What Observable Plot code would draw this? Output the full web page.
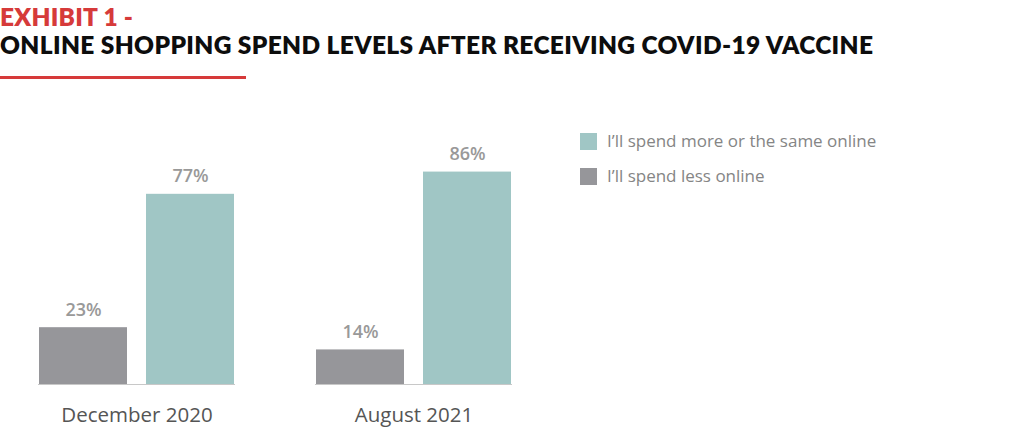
<!DOCTYPE html>
<html>
<head>
<meta charset="utf-8">
<script src="https://cdn.jsdelivr.net/npm/d3@7"></script>
<script src="https://cdn.jsdelivr.net/npm/@observablehq/plot@0.6"></script>
<style>
  html, body { margin: 0; padding: 0; background: #fff; }
  #wrap { position: relative; width: 1024px; height: 439px; overflow: hidden; }
  #wrap > * { position: absolute; }
</style>
</head>
<body>
<div id="wrap"></div>
<script>
const periods = ["December 2020", "August 2021"];
const seriesKeys = ["less", "more"];
const seriesLabels = ["I’ll spend less online", "I’ll spend more or the same online"];
const lessValues = [23, 14];
const moreValues = [77, 86];
const colors = ["#96969a", "#a0c6c5"];

const titleLine1 = "EXHIBIT 1 -";
const titleLine2 = "ONLINE SHOPPING SPEND LEVELS AFTER RECEIVING COVID-19 VACCINE";

const data = [];
periods.forEach((p, i) => {
  data.push({period: p, series: "less", value: lessValues[i]});
  data.push({period: p, series: "more", value: moreValues[i]});
});

const wrap = document.getElementById("wrap");
const NS = "http://www.w3.org/2000/svg";

// Header
const head = document.createElementNS(NS, "svg");
head.setAttribute("width", 1024);
head.setAttribute("height", 85);
head.style.left = "0px"; head.style.top = "0px";
head.innerHTML = `
  <text x="0" y="26" font-family="Lato" font-weight="800" font-size="24.5" fill="#d63a3a" textLength="133" lengthAdjust="spacing">${titleLine1}</text>
  <text x="0" y="54.3" font-family="Lato" font-weight="800" font-size="24.5" fill="#0d0d0d" textLength="873" lengthAdjust="spacing">${titleLine2}</text>
  <rect x="0" y="76" width="246" height="3" fill="#d63a3a"></rect>`;
wrap.appendChild(head);

// Chart
function makeChart(useSuper) {
  return Plot.plot({
    width: 560,
    height: 354,
    marginLeft: 22,
    marginRight: 32,
    marginTop: 52,
    marginBottom: 55,
    style: {fontFamily: "Open Sans", fontSize: "20.5px", color: "#555", background: "transparent"},
    fx: {domain: periods, paddingInner: 0.289, paddingOuter: 0.055, axis: "bottom", tickSize: 0, tickPadding: 23, label: null},
    x: {domain: seriesKeys, paddingInner: 0.175, paddingOuter: 0, axis: null},
    y: {domain: [0, 100], axis: null},
    color: {domain: seriesKeys, range: colors},
    marks: [
      Plot.barY(data, {fx: "period", x: "series", y: "value", fill: "series"}),
      Plot.text(data, {fx: "period", x: "series", y: "value", text: d => d.value + "%", dy: -12, lineAnchor: "bottom", fill: "#999", fontSize: 18, fontWeight: 600}),
      useSuper ? Plot.ruleY([0], {facet: "super", stroke: "#c8c8c8", strokeWidth: 1.2}) : Plot.ruleY([0], {stroke: "#c8c8c8", strokeWidth: 1.2})
    ]
  });
}
let chart;
try { chart = makeChart(true); } catch (e) { console.error(e); chart = makeChart(false); }
chart.style.left = "0px"; chart.style.top = "85px";
wrap.appendChild(chart);

// Legend
const leg = document.createElementNS(NS, "svg");
leg.setAttribute("width", 400);
leg.setAttribute("height", 90);
leg.style.left = "560px"; leg.style.top = "120px";
const order = [1, 0];
order.forEach((k, r) => {
  const y0 = 13 + r * 35;
  const rect = document.createElementNS(NS, "rect");
  rect.setAttribute("x", 20); rect.setAttribute("y", y0);
  rect.setAttribute("width", 17); rect.setAttribute("height", 17);
  rect.setAttribute("fill", colors[k]);
  leg.appendChild(rect);
  const t = document.createElementNS(NS, "text");
  t.setAttribute("x", 47); t.setAttribute("y", y0 + 14.3);
  t.setAttribute("font-family", "Open Sans");
  t.setAttribute("font-size", 17);
  t.setAttribute("fill", "#858585");
  t.textContent = seriesLabels[k];
  leg.appendChild(t);
});
wrap.appendChild(leg);
</script>
</body>
</html>
